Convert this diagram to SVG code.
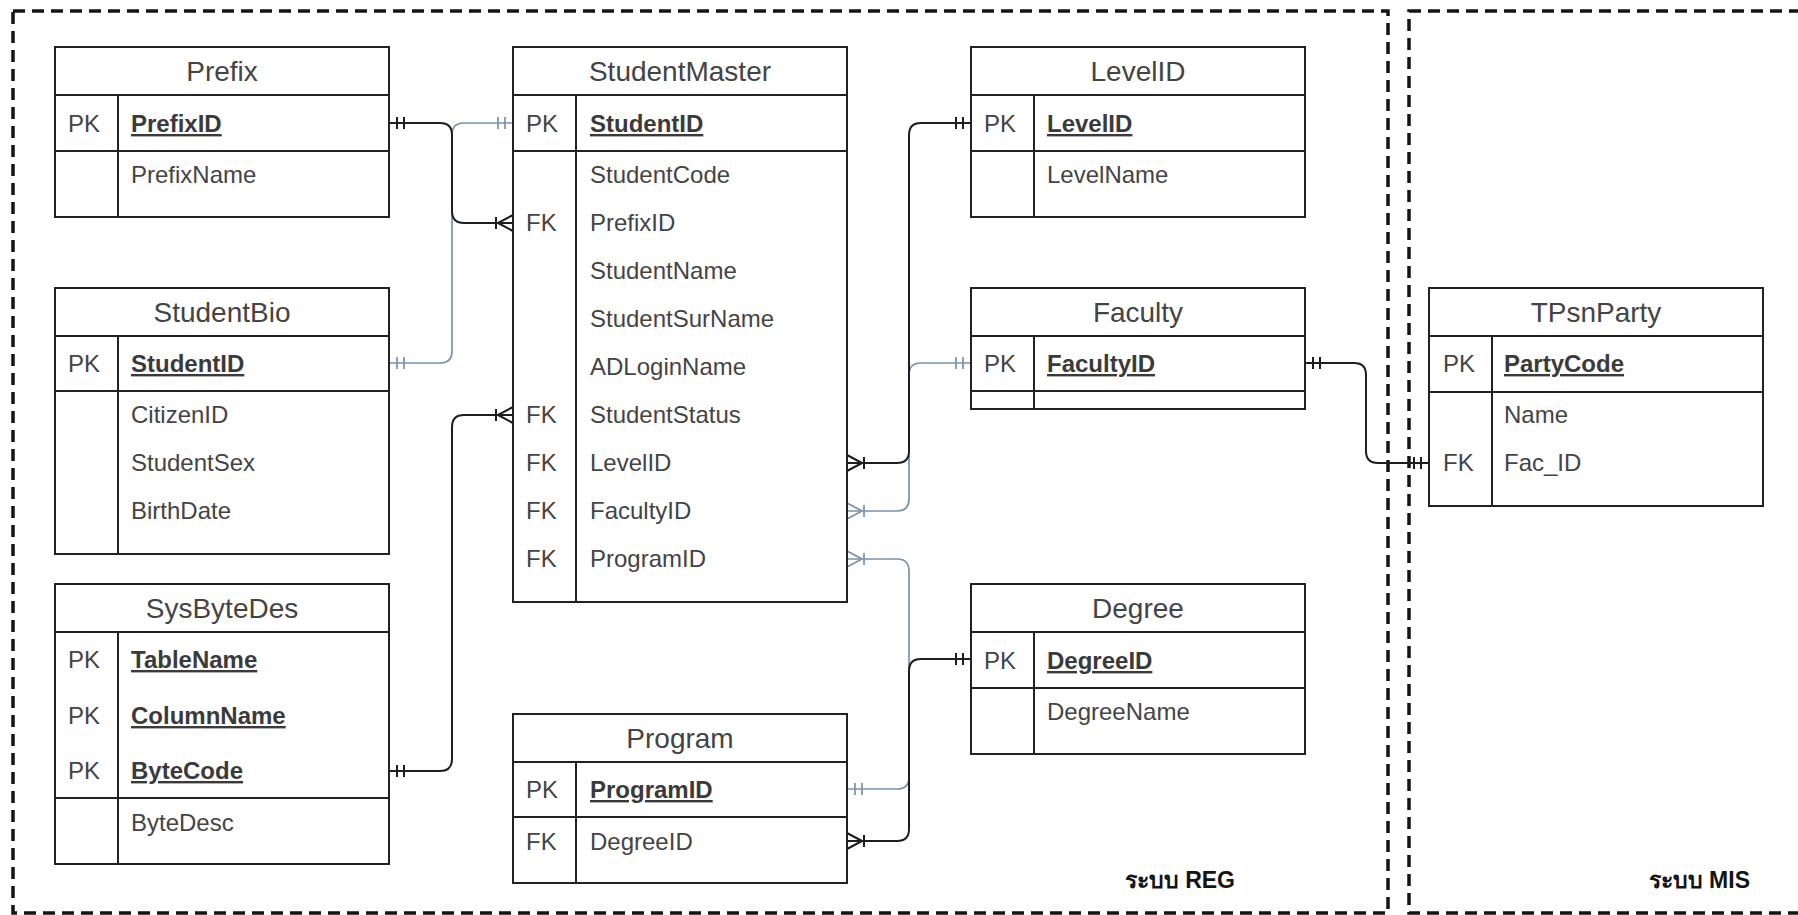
<svg xmlns="http://www.w3.org/2000/svg" width="1798" height="915" viewBox="0 0 1798 915">
  <style>
    .zone { fill: none; stroke: #141414; stroke-width: 3.5; stroke-dasharray: 12 7; }
    .box { fill: #ffffff; stroke: #222222; stroke-width: 2; }
    .ln { stroke: #222222; stroke-width: 2; }
    text { font-family: "Liberation Sans", Arial, sans-serif; fill: #444444; }
    .title { font-size: 28px; text-anchor: middle; }
    .f { font-size: 24px; }
    .key { font-weight: bold; text-decoration: underline; fill: #3a3a3a; }
    .zl { font-size: 23px; font-weight: bold; fill: #141414; text-anchor: end; }
    .rel-k { fill: none; stroke: #1e1e1e; stroke-width: 2; }
    .rel-b { fill: none; stroke: #7892ae; stroke-width: 1.7; }
  </style>
  <defs>
    <!-- mandatory one (double bar) and one-or-many (bar + crow's foot) ends -->
    <marker id="one-k" markerUnits="userSpaceOnUse" viewBox="-22 -11 24 22" refX="0" refY="0" markerWidth="24" markerHeight="22" orient="auto-start-reverse">
      <path d="M-8,-6V6M-15,-6V6" stroke="#1e1e1e" stroke-width="2" fill="none"/>
    </marker>
    <marker id="many-k" markerUnits="userSpaceOnUse" viewBox="-22 -11 24 22" refX="0" refY="0" markerWidth="24" markerHeight="22" orient="auto-start-reverse">
      <path d="M-17,-6V6M-15,0L0,-8M-15,0L0,8" stroke="#1e1e1e" stroke-width="2" fill="none"/>
    </marker>
    <marker id="one-b" markerUnits="userSpaceOnUse" viewBox="-22 -11 24 22" refX="0" refY="0" markerWidth="24" markerHeight="22" orient="auto-start-reverse">
      <path d="M-8,-6V6M-15,-6V6" stroke="#7892ae" stroke-width="1.7" fill="none"/>
    </marker>
    <marker id="many-b" markerUnits="userSpaceOnUse" viewBox="-22 -11 24 22" refX="0" refY="0" markerWidth="24" markerHeight="22" orient="auto-start-reverse">
      <path d="M-17,-6V6M-15,0L0,-8M-15,0L0,8" stroke="#7892ae" stroke-width="1.7" fill="none"/>
    </marker>
  </defs>

  <rect width="1798" height="915" fill="#ffffff"/>

  <!-- system boundaries -->
  <g id="zones">
    <rect class="zone" x="13" y="11" width="1375" height="902"/>
    <rect class="zone" x="1409" y="11" width="400" height="902"/>
    <text class="zl" x="1235" y="888">ระบบ REG</text>
    <text class="zl" x="1750" y="888">ระบบ MIS</text>
  </g>

  <!-- relationships -->
  <g id="connectors">
    <path class="rel-b" d="M389,363 H440 Q452,363 452,351 V135 Q452,123 464,123 H513" marker-start="url(#one-b)" marker-end="url(#one-b)"/>
    <path class="rel-k" d="M389,123 H440 Q452,123 452,135 V211 Q452,223 464,223 H513" marker-start="url(#one-k)" marker-end="url(#many-k)"/>
    <path class="rel-k" d="M389,771 H440 Q452,771 452,759 V427 Q452,415 464,415 H513" marker-start="url(#one-k)" marker-end="url(#many-k)"/>
    <path class="rel-b" d="M971,363 H921 Q909,363 909,375 V499 Q909,511 897,511 H847" marker-start="url(#one-b)" marker-end="url(#many-b)"/>
    <path class="rel-b" d="M847,789 H897 Q909,789 909,777 V571 Q909,559 897,559 H847" marker-start="url(#one-b)" marker-end="url(#many-b)"/>
    <path class="rel-k" d="M971,123 H921 Q909,123 909,135 V451 Q909,463 897,463 H847" marker-start="url(#one-k)" marker-end="url(#many-k)"/>
    <path class="rel-k" d="M971,659 H921 Q909,659 909,671 V829 Q909,841 897,841 H847" marker-start="url(#one-k)" marker-end="url(#many-k)"/>
    <path class="rel-k" d="M1305,363 H1354 Q1366,363 1366,375 V451 Q1366,463 1378,463 H1429" marker-start="url(#one-k)" marker-end="url(#one-k)"/>
  </g>

  <g id="prefix">
    <rect class="box" x="55" y="47" width="334" height="170"/>
    <line class="ln" x1="55" y1="95" x2="389" y2="95"/>
    <line class="ln" x1="55" y1="151" x2="389" y2="151"/>
    <line class="ln" x1="118" y1="95" x2="118" y2="217"/>
    <text class="title" x="222" y="81">Prefix</text>
    <text class="f" x="68" y="132">PK</text>
    <text class="f key" x="131" y="132">PrefixID</text>
    <text class="f" x="131" y="183">PrefixName</text>
  </g>

  <g id="studentbio">
    <rect class="box" x="55" y="288" width="334" height="266"/>
    <line class="ln" x1="55" y1="336" x2="389" y2="336"/>
    <line class="ln" x1="55" y1="391" x2="389" y2="391"/>
    <line class="ln" x1="118" y1="336" x2="118" y2="554"/>
    <text class="title" x="222" y="322">StudentBio</text>
    <text class="f" x="68" y="372">PK</text>
    <text class="f key" x="131" y="372">StudentID</text>
    <text class="f" x="131" y="423">CitizenID</text>
    <text class="f" x="131" y="471">StudentSex</text>
    <text class="f" x="131" y="519">BirthDate</text>
  </g>

  <g id="sysbytedes">
    <rect class="box" x="55" y="584" width="334" height="280"/>
    <line class="ln" x1="55" y1="632" x2="389" y2="632"/>
    <line class="ln" x1="55" y1="798" x2="389" y2="798"/>
    <line class="ln" x1="118" y1="632" x2="118" y2="864"/>
    <text class="title" x="222" y="618">SysByteDes</text>
    <text class="f" x="68" y="668">PK</text>
    <text class="f key" x="131" y="668">TableName</text>
    <text class="f" x="68" y="724">PK</text>
    <text class="f key" x="131" y="724">ColumnName</text>
    <text class="f" x="68" y="779">PK</text>
    <text class="f key" x="131" y="779">ByteCode</text>
    <text class="f" x="131" y="831">ByteDesc</text>
  </g>

  <g id="studentmaster">
    <rect class="box" x="513" y="47" width="334" height="555"/>
    <line class="ln" x1="513" y1="95" x2="847" y2="95"/>
    <line class="ln" x1="513" y1="151" x2="847" y2="151"/>
    <line class="ln" x1="576" y1="95" x2="576" y2="602"/>
    <text class="title" x="680" y="81">StudentMaster</text>
    <text class="f" x="526" y="132">PK</text>
    <text class="f key" x="590" y="132">StudentID</text>
    <text class="f" x="590" y="183">StudentCode</text>
    <text class="f" x="526" y="231">FK</text>
    <text class="f" x="590" y="231">PrefixID</text>
    <text class="f" x="590" y="279">StudentName</text>
    <text class="f" x="590" y="327">StudentSurName</text>
    <text class="f" x="590" y="375">ADLoginName</text>
    <text class="f" x="526" y="423">FK</text>
    <text class="f" x="590" y="423">StudentStatus</text>
    <text class="f" x="526" y="471">FK</text>
    <text class="f" x="590" y="471">LevelID</text>
    <text class="f" x="526" y="519">FK</text>
    <text class="f" x="590" y="519">FacultyID</text>
    <text class="f" x="526" y="567">FK</text>
    <text class="f" x="590" y="567">ProgramID</text>
  </g>

  <g id="program">
    <rect class="box" x="513" y="714" width="334" height="169"/>
    <line class="ln" x1="513" y1="762" x2="847" y2="762"/>
    <line class="ln" x1="513" y1="817" x2="847" y2="817"/>
    <line class="ln" x1="576" y1="762" x2="576" y2="883"/>
    <text class="title" x="680" y="748">Program</text>
    <text class="f" x="526" y="798">PK</text>
    <text class="f key" x="590" y="798">ProgramID</text>
    <text class="f" x="526" y="850">FK</text>
    <text class="f" x="590" y="850">DegreeID</text>
  </g>

  <g id="levelid">
    <rect class="box" x="971" y="47" width="334" height="170"/>
    <line class="ln" x1="971" y1="95" x2="1305" y2="95"/>
    <line class="ln" x1="971" y1="151" x2="1305" y2="151"/>
    <line class="ln" x1="1034" y1="95" x2="1034" y2="217"/>
    <text class="title" x="1138" y="81">LevelID</text>
    <text class="f" x="984" y="132">PK</text>
    <text class="f key" x="1047" y="132">LevelID</text>
    <text class="f" x="1047" y="183">LevelName</text>
  </g>

  <g id="faculty">
    <rect class="box" x="971" y="288" width="334" height="121"/>
    <line class="ln" x1="971" y1="336" x2="1305" y2="336"/>
    <line class="ln" x1="971" y1="391" x2="1305" y2="391"/>
    <line class="ln" x1="1034" y1="336" x2="1034" y2="409"/>
    <text class="title" x="1138" y="322">Faculty</text>
    <text class="f" x="984" y="372">PK</text>
    <text class="f key" x="1047" y="372">FacultyID</text>
  </g>

  <g id="degree">
    <rect class="box" x="971" y="584" width="334" height="170"/>
    <line class="ln" x1="971" y1="632" x2="1305" y2="632"/>
    <line class="ln" x1="971" y1="688" x2="1305" y2="688"/>
    <line class="ln" x1="1034" y1="632" x2="1034" y2="754"/>
    <text class="title" x="1138" y="618">Degree</text>
    <text class="f" x="984" y="669">PK</text>
    <text class="f key" x="1047" y="669">DegreeID</text>
    <text class="f" x="1047" y="720">DegreeName</text>
  </g>

  <g id="tpsnparty">
    <rect class="box" x="1429" y="288" width="334" height="218"/>
    <line class="ln" x1="1429" y1="336" x2="1763" y2="336"/>
    <line class="ln" x1="1429" y1="392" x2="1763" y2="392"/>
    <line class="ln" x1="1492" y1="336" x2="1492" y2="506"/>
    <text class="title" x="1596" y="322">TPsnParty</text>
    <text class="f" x="1443" y="372">PK</text>
    <text class="f key" x="1504" y="372">PartyCode</text>
    <text class="f" x="1504" y="423">Name</text>
    <text class="f" x="1443" y="471">FK</text>
    <text class="f" x="1504" y="471">Fac_ID</text>
  </g>
</svg>
